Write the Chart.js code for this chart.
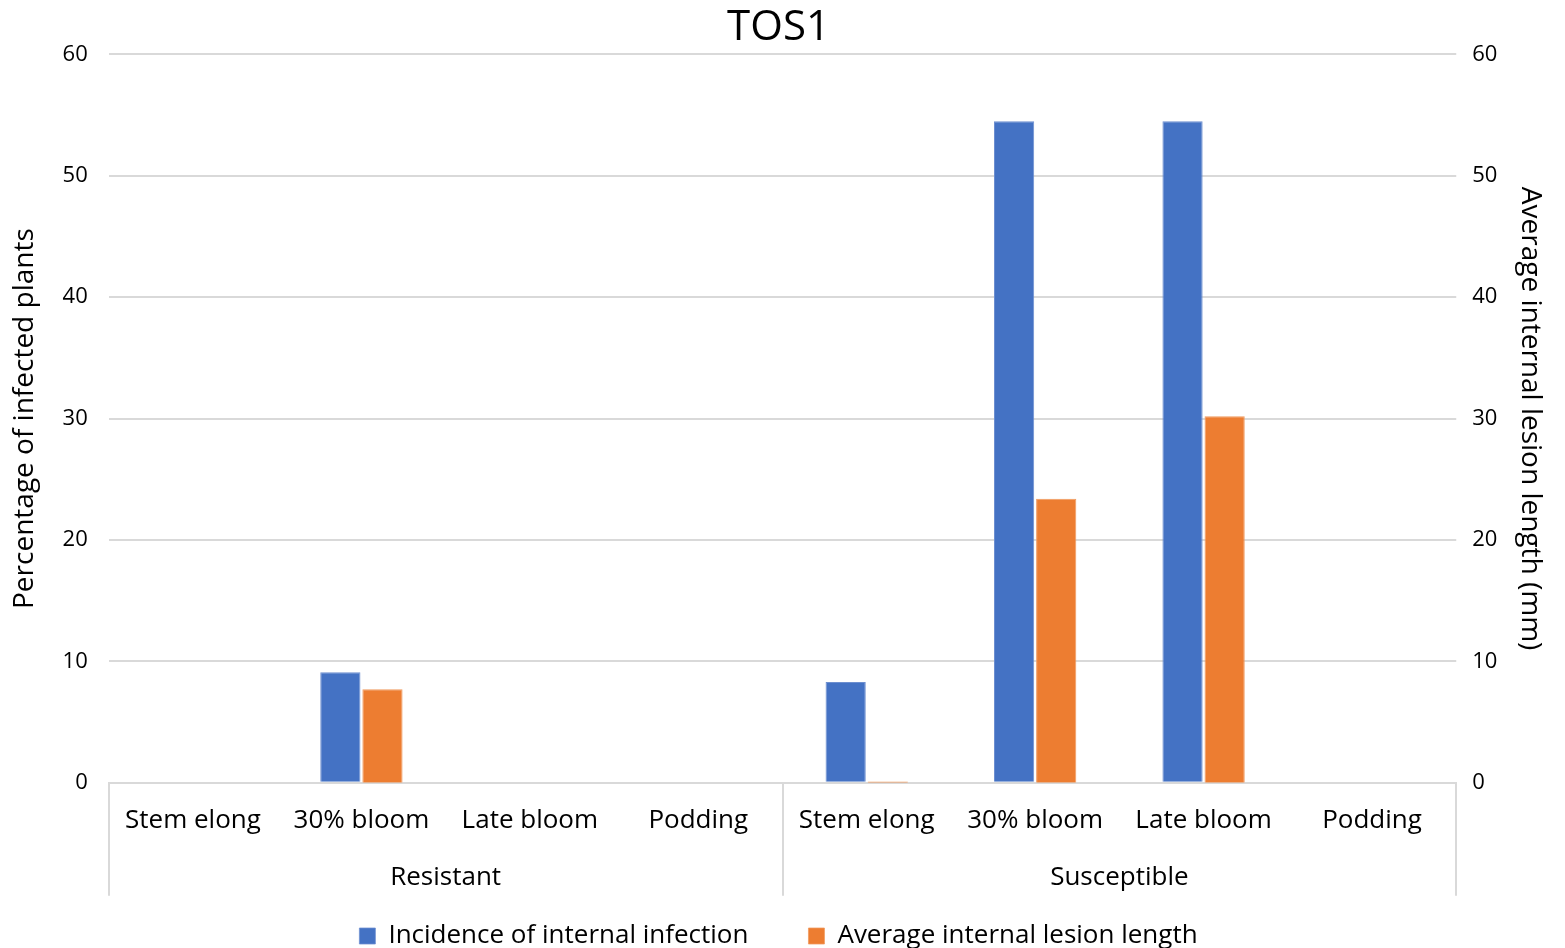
<!DOCTYPE html>
<html>
<head>
<meta charset="utf-8">
<title>TOS1</title>
<script src="https://cdn.jsdelivr.net/npm/chart.js@4.4.1/dist/chart.umd.min.js"></script>
<style>
  html, body { margin: 0; padding: 0; background: #fff; overflow: hidden; }
  #wrap { width: 1565px; height: 959px; }
</style>
</head>
<body>
<div id="wrap"><canvas id="chart" width="1565" height="959"></canvas></div>
<script>
// growth stages, repeated for each cultivar group
const stages = ['Stem elong', '30% bloom', 'Late bloom', 'Podding',
                'Stem elong', '30% bloom', 'Late bloom', 'Podding'];
const groups = ['Resistant', 'Susceptible'];

// % plants with internal infection (left axis)
const incidence = [0, 9.1, 0, 0, 8.3, 54.5, 54.5, 0];
// average internal lesion length, mm (right axis)
const lesionLength = [0, 7.7, 0, 0, 0.1, 23.4, 30.2, 0];

const yTicks = [0, 10, 20, 30, 40, 50, 60];

const FONT = '"Open Sans", "DejaVu Sans", sans-serif';
const GRID = '#d9d9d9';

// second row of the category axis: group names + separators at the group edges
const groupAxis = {
  id: 'groupAxis',
  afterDraw(chart) {
    const x = chart.scales.x;
    const ctx = chart.ctx;
    const step = (x.right - x.left) / stages.length;
    const perGroup = stages.length / groups.length;
    const y0 = chart.chartArea.bottom;
    ctx.save();
    ctx.strokeStyle = GRID;
    ctx.lineWidth = 2;
    for (let i = 0; i <= groups.length; i++) {
      const px = Math.round(x.left + i * perGroup * step);
      ctx.beginPath();
      ctx.moveTo(px, y0);
      ctx.lineTo(px, y0 + 113);
      ctx.stroke();
    }
    ctx.fillStyle = '#000';
    ctx.font = '26px ' + FONT;
    ctx.textAlign = 'center';
    ctx.textBaseline = 'middle';
    groups.forEach((g, i) => {
      const cx = x.left + (i + 0.5) * perGroup * step;
      ctx.fillText(g, cx, y0 + 95);
    });
    ctx.restore();
  }
};

new Chart(document.getElementById('chart'), {
  type: 'bar',
  data: {
    labels: stages,
    datasets: [
      {
        label: 'Incidence of internal infection',
        data: incidence,
        yAxisID: 'y',
        backgroundColor: '#4472c4',
        borderColor: '#6d8fd0',
        borderWidth: { left: 1, right: 1, top: 1, bottom: 0 },
        categoryPercentage: 0.5,
        barPercentage: 0.955
      },
      {
        label: 'Average internal lesion length',
        data: lesionLength,
        yAxisID: 'y1',
        backgroundColor: '#ed7d31',
        borderColor: '#f09a5e',
        borderWidth: { left: 1, right: 1, top: 1, bottom: 0 },
        categoryPercentage: 0.5,
        barPercentage: 0.955
      }
    ]
  },
  options: {
    responsive: false,
    animation: false,
    layout: { padding: { left: 8, right: 16, top: 0, bottom: 0 } },
    plugins: {
      title: {
        display: true,
        text: 'TOS1',
        color: '#000',
        font: { family: FONT, size: 42, weight: 'normal' },
        padding: { top: 3, bottom: 1 }
      },
      legend: {
        position: 'bottom',
        labels: {
          color: '#000',
          font: { family: FONT, size: 26 },
          boxWidth: 16,
          boxHeight: 16,
          padding: 60
        }
      },
      tooltip: { enabled: false }
    },
    scales: {
      x: {
        type: 'category',
        grid: { display: false, drawTicks: false },
        border: { display: true, color: GRID, width: 2 },
        ticks: { color: '#000', font: { family: FONT, size: 26 }, padding: 22, maxRotation: 0, autoSkip: false },
        // leave room below the stage names for the group row
        afterFit: (axis) => { axis.height += 5; }
      },
      y: {
        position: 'left',
        min: 0,
        max: 60,
        afterBuildTicks: (axis) => { axis.ticks = yTicks.map(v => ({ value: v })); },
        grid: { color: GRID, lineWidth: 2, drawTicks: false },
        border: { display: false },
        ticks: { color: '#000', font: { family: FONT, size: 22 }, padding: 21 },
        title: {
          display: true,
          text: 'Percentage of infected plants',
          color: '#000',
          font: { family: FONT, size: 28 },
          padding: { top: 0, bottom: 0 }
        }
      },
      y1: {
        position: 'right',
        min: 0,
        max: 60,
        afterBuildTicks: (axis) => { axis.ticks = yTicks.map(v => ({ value: v })); },
        grid: { display: false, drawTicks: false },
        border: { display: false },
        ticks: { color: '#000', font: { family: FONT, size: 22 }, padding: 16 },
        title: {
          display: true,
          text: 'Average internal lesion length (mm)',
          color: '#000',
          font: { family: FONT, size: 28 },
          padding: { top: 2, bottom: 0 }
        }
      }
    }
  },
  plugins: [groupAxis]
});
</script>
</body>
</html>
